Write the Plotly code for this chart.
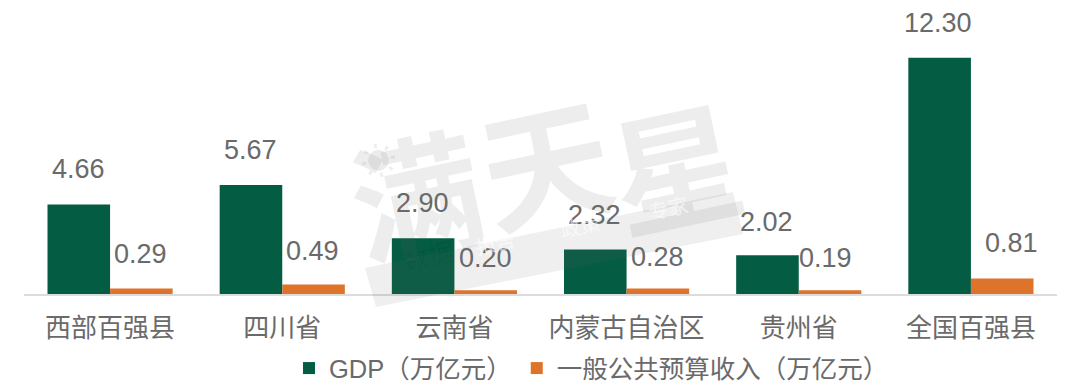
import plotly.graph_objects as go

categories = ["西部百强县", "四川省", "云南省", "内蒙古自治区", "贵州省", "全国百强县"]
gdp = [4.66, 5.67, 2.90, 2.32, 2.02, 12.30]
revenue = [0.29, 0.49, 0.20, 0.28, 0.19, 0.81]
gdp_labels = ["4.66", "5.67", "2.90", "2.32", "2.02", "12.30"]
revenue_labels = ["0.29", "0.49", "0.20", "0.28", "0.19", "0.81"]
series_names = ["GDP（万亿元）", "一般公共预算收入（万亿元）"]

GREEN = "#045C43"
ORANGE = "#DE742B"
TEXT = "#6A6A6A"
FONT = "Liberation Sans, Noto Sans CJK SC, sans-serif"

# hand placement of the value labels, as in the source (px relative to bar top / group centre)
gdp_lift = [35, 35, 35, 34, 33, 35]
gdp_dx = [-32, -32, -32, -32, -32, -33]
rev_lift = [34, 34, 32, 32, 32, 35]
rev_dx = [30, 30, 31, 31, 27, 41]

plot_l, plot_r, plot_t, plot_b = 24, 23, 25, 98


def to_paper(px, py):
    return (px - plot_l) / (1080 - plot_l - plot_r), (392 - plot_b - py) / (392 - plot_t - plot_b)


fig = go.Figure()
fig.add_bar(x=categories, y=gdp, name=series_names[0], marker=dict(color=GREEN, line=dict(width=0)))
fig.add_bar(x=categories, y=revenue, name=series_names[1], marker=dict(color=ORANGE, line=dict(width=0)))

annotations = []
for i, c in enumerate(categories):
    annotations.append(dict(x=c, y=gdp[i], xref="x", yref="y", text=gdp_labels[i], showarrow=False,
                            xshift=gdp_dx[i], yshift=gdp_lift[i], font=dict(size=27, color=TEXT, family=FONT)))
    annotations.append(dict(x=c, y=revenue[i], xref="x", yref="y", text=revenue_labels[i], showarrow=False,
                            xshift=rev_dx[i], yshift=rev_lift[i], font=dict(size=27, color=TEXT, family=FONT)))

# faint watermark laid over the chart
WM = "rgba(110,110,110,0.12)"
WM2 = "rgba(255,255,255,0.6)"
for txt, px, py, sz, col in [("<b>满</b>", 415, 190, 130, WM), ("<b>天</b>", 545, 158, 130, WM),
                             ("<b>星</b>", 675, 162, 130, WM),
                             ("☀", 353, 158, 36, WM),
                             ("数据", 428, 280, 26, "rgba(0,0,0,0.06)"), ("报告", 495, 263, 20, WM2),
                             ("政策", 580, 246, 20, WM2), ("专家", 668, 228, 20, WM2)]:
    ax, ay = to_paper(px, py)
    annotations.append(dict(x=ax, y=ay, xref="paper", yref="paper", text=txt, showarrow=False,
                            textangle=-12, font=dict(size=sz, color=col, family="Noto Sans CJK SC")))

corners = [to_paper(*p) for p in [(365, 268), (733, 192), (743, 234), (376, 307)]]
band = "M " + " L ".join(f"{a:.4f},{b:.4f}" for a, b in corners) + " Z"

fig.update_layout(
    width=1080, height=392, paper_bgcolor="white", plot_bgcolor="white",
    margin=dict(l=plot_l, r=plot_r, t=plot_t, b=plot_b, pad=0),
    barmode="group", bargap=0.273, bargroupgap=0,
    font=dict(family=FONT, color=TEXT, size=24),
    xaxis=dict(showline=True, linecolor="#DCDCDC", linewidth=2, ticks="", showgrid=False, automargin=False,
               tickfont=dict(size=26, color=TEXT, family=FONT), ticklabelstandoff=10),
    yaxis=dict(visible=False, range=[0, 14], showgrid=False, zeroline=False, automargin=False),
    legend=dict(orientation="h", xref="container", yref="container", x=289 / 1080, y=1 - 345 / 392,
                xanchor="left", yanchor="top", traceorder="normal",
                font=dict(size=25.5, color=TEXT, family=FONT), itemwidth=30, bgcolor="rgba(0,0,0,0)"),
    annotations=annotations,
    shapes=[dict(type="path", xref="paper", yref="paper", path=band, fillcolor="rgba(110,110,110,0.11)",
                 line_width=0, layer="above")],
)
fig.write_html("out.html", config={"displayModeBar": False},
               post_script="document.body.style.margin='0';document.body.style.overflow='hidden';")
